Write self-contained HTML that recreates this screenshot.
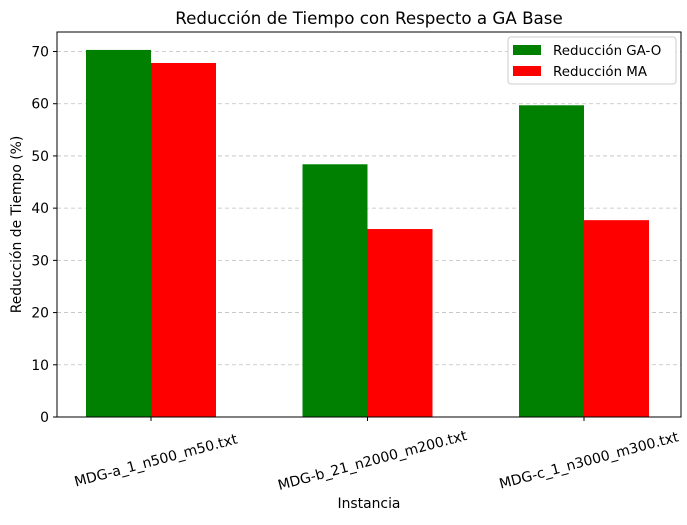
<!DOCTYPE html>
<html><head><meta charset="utf-8"><style>
body{margin:0;background:#fff;font-family:"Liberation Sans","DejaVu Sans",sans-serif;}
svg text{font-family:"DejaVu Sans","Liberation Sans",sans-serif;}
</style></head><body>
<svg id="chart" width="687" height="520"></svg>
<script>
const categories=["MDG-a_1_n500_m50.txt","MDG-b_21_n2000_m200.txt","MDG-c_1_n3000_m300.txt"];
const gaoValues=[70.3,48.4,59.7];
const maValues=[67.8,36.0,37.7];
const yTicks=[0,10,20,30,40,50,60,70];
const seriesNames=["Reducción GA-O","Reducción MA"];
const NS="http://www.w3.org/2000/svg";
const svg=document.getElementById('chart');
const L=57,R=681,T=32,B=417;
const y=v=>B-v*(B-51.5)/70;
const x=i=>151+i*216.5;
const bw=65;
function mk(tag,attrs,parent){const e=document.createElementNS(NS,tag);for(const k in attrs)e.setAttribute(k,attrs[k]);(parent||svg).appendChild(e);return e;}
yTicks.forEach(t=>{
  const g=mk('line',{x1:L,x2:R,y1:y(t),y2:y(t),stroke:'#b0b0b0','stroke-dasharray':'4,3','stroke-width':0.8,opacity:0.8});
  
  
  const tk=mk('line',{x1:L-4,x2:L,y1:y(t),y2:y(t),stroke:'#000'});
  
  
  const tx=mk('text',{x:L-8,y:y(t)+5,'text-anchor':'end','font-size':13.9});
  tx.textContent=t;
  
  
});
categories.forEach((c,i)=>{
  const b1=mk('rect',{x:x(i)-bw,y:y(gaoValues[i]),width:bw,height:B-y(gaoValues[i]),fill:'#008000'});
  
  
  const b2=mk('rect',{x:x(i),y:y(maValues[i]),width:bw,height:B-y(maValues[i]),fill:'#ff0000'});
  
  
  const tk=mk('line',{x1:x(i),x2:x(i),y1:B,y2:B+4,stroke:'#000'});
  
  
  const cx=x(i)+5, cy=B+44;
  const tx=mk('text',{x:cx,y:cy,'text-anchor':'middle','dominant-baseline':'central','font-size':14,transform:`rotate(-15 ${cx} ${cy})`});
  tx.textContent=c;
  
  
});
const ax=mk('rect',{x:L,y:T,width:R-L,height:B-T,fill:'none',stroke:'#000','stroke-width':1});


const title=mk('text',{x:(L+R)/2,y:24,'text-anchor':'middle','font-size':16.7});
title.textContent='Reducción de Tiempo con Respecto a GA Base';


const xt=mk('text',{x:(L+R)/2,y:508,'text-anchor':'middle','font-size':13.9});
xt.textContent='Instancia';


const yt=mk('text',{x:21,y:(T+B)/2,'text-anchor':'middle','font-size':13.9,transform:`rotate(-90 21 ${(T+B)/2})`});
yt.textContent='Reducción de Tiempo (%)';


const lg=mk('g',{});


mk('rect',{x:508,y:37,width:168,height:47,rx:3,fill:'#fff',stroke:'#ccc'},lg);
[['#008000',seriesNames[0]],['#ff0000',seriesNames[1]]].forEach((s,k)=>{
  const r=mk('rect',{x:513,y:45+k*21,width:28,height:10,fill:s[0]},lg);
  
  
  const t=mk('text',{x:553,y:55+k*21,'font-size':13.4},lg);
  t.textContent=s[1];
  
  
});
</script>
</body></html>
